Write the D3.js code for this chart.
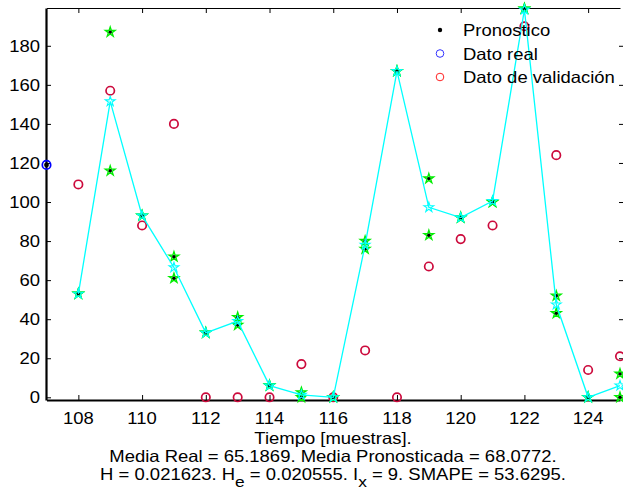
<!DOCTYPE html>
<html><head><meta charset="utf-8">
<script src="https://cdn.jsdelivr.net/npm/d3@7"></script>
<style>
html,body{margin:0;padding:0;background:#fff;}
svg{display:block;}
text{font-family:"Liberation Sans",Arial,Helvetica,sans-serif;fill:#000;}
</style></head>
<body>
<svg id="chart" width="623" height="492"></svg>
<script>
// ---- data ----
const muestras = [108,109,110,111,112,113,114,115,116,117,118,119,120,121,122,123,124,125];
const pronosticoA = [53,187,93,72,33,41,6,2.5,0,80,167,112,92,100,199,52,0,12];
const pronosticoB = [53,116,93,61,33,37,6,0,0,76,167,83,92,100,199,43,0,0];
const pronosticoMedio = [53,151.5,93,66.5,33,39,6,1.2,0,78,167,97.3,92,100.5,198.5,47.5,0,6];
const validacion = [109,157,88,140,0,0,0,17,0,24,0,67,81,88,190,124,14,21];
const realX = [107];
const realY = [119];
const xTicks = [108,110,112,114,116,118,120,122,124];
const yTicks = [0,20,40,60,80,100,120,140,160,180];
const xLabel = "Tiempo [muestras].";
const linea1 = "Media Real = 65.1869. Media Pronosticada = 68.0772.";
const legendLabels = ["Pronostico","Dato real","Dato de validación"];

// ---- layout ----
const svg = d3.select("#chart");
const L = 46.5, R = 620, T = 8, B = 400;
const x = d3.scaleLinear().domain([107,125]).range([L,R]);
const y = d3.scaleLinear().domain([-1.38,199.35]).range([B,T]);
const FS = 16.5, SX = 1.12;

function label(g, txt, px, py, anchor){
  return g.append("text").attr("font-size",FS)
    .attr("text-anchor",anchor||"middle")
    .attr("transform",`translate(${px},${py}) scale(${SX},1)`)
    .text(txt);
}

const star = d3.symbol().type(d3.symbolStar).size(30);

// axes
const axB = svg.append("g").attr("transform",`translate(0,${B})`)
  .call(d3.axisBottom(x).tickValues(xTicks).tickSizeInner(-5).tickSizeOuter(0).tickFormat(""));
const axT = svg.append("g").attr("transform",`translate(0,${T})`)
  .call(d3.axisTop(x).tickValues(xTicks).tickSizeInner(-5).tickSizeOuter(0).tickFormat(""));
const axL = svg.append("g").attr("transform",`translate(${L-0.5},0)`)
  .call(d3.axisLeft(y).tickValues(yTicks).tickSizeInner(-5).tickSizeOuter(0).tickFormat(""));
const axR = svg.append("g").attr("transform",`translate(624,0)`)
  .call(d3.axisRight(y).tickValues(yTicks).tickSizeInner(-5).tickSizeOuter(0).tickFormat(""));
[axB,axT,axL,axR].forEach(a=>{a.selectAll("line").attr("stroke","#000");a.select(".domain").attr("stroke","#000");});
axT.select(".domain").attr("stroke-width",1.2);
axB.select(".domain").attr("stroke-width",2.2);
axL.select(".domain").attr("stroke-width",2.2);

// tick labels
const tl = svg.append("g");
xTicks.forEach(v=>label(tl, String(v), x(v), 424, "middle"));
yTicks.forEach(v=>label(tl, String(v), 40, y(v)+6, "end"));

// validation circles
svg.append("g").selectAll("circle").data(validacion).join("circle")
  .attr("cx",(d,i)=>x(muestras[i])).attr("cy",d=>y(d)).attr("r",4.2)
  .attr("fill","none").attr("stroke","#cc0a3c").attr("stroke-width",1.7);

// real data
svg.append("g").selectAll("circle").data(realY).join("circle")
  .attr("cx",(d,i)=>x(realX[i])).attr("cy",d=>y(d)).attr("r",4.2)
  .attr("fill","none").attr("stroke","#0000ff").attr("stroke-width",1.7);
svg.append("g").selectAll("circle").data(realY).join("circle")
  .attr("cx",(d,i)=>x(realX[i])).attr("cy",d=>y(d)).attr("r",2.4).attr("fill","#000");

// individual forecasts (green stars + black dots)
[pronosticoA, pronosticoB].forEach(s=>{
  const g = svg.append("g");
  g.selectAll("path").data(s).join("path")
    .attr("transform",(d,i)=>`translate(${x(muestras[i])},${y(d)})`)
    .attr("d",star).attr("fill","#00ee00").attr("fill-opacity",0.35).attr("stroke","#00ee00").attr("stroke-width",1.3);
  g.selectAll("circle").data(s).join("circle")
    .attr("cx",(d,i)=>x(muestras[i])).attr("cy",d=>y(d)).attr("r",1.7).attr("fill","#000");
});

// mean forecast line
svg.append("path").datum(pronosticoMedio)
  .attr("d", d3.line().x((d,i)=>x(muestras[i])).y(d=>y(d)))
  .attr("fill","none").attr("stroke","#00ffff").attr("stroke-width",1.3);
svg.append("g").selectAll("path").data(pronosticoMedio).join("path")
  .attr("transform",(d,i)=>`translate(${x(muestras[i])},${y(d)})`)
  .attr("d",star).attr("fill","none").attr("stroke","#00ffff").attr("stroke-width",1.1);

// legend
const lg = svg.append("g");
const rows = [30,53.5,77];
lg.append("circle").attr("cx",440).attr("cy",rows[0]).attr("r",2.2).attr("fill","#000");
lg.append("circle").attr("cx",440).attr("cy",rows[1]).attr("r",3.8).attr("fill","none").attr("stroke","#3333ff").attr("stroke-width",1);
lg.append("circle").attr("cx",440).attr("cy",rows[2]).attr("r",3.8).attr("fill","none").attr("stroke","#ff2222").attr("stroke-width",1);
legendLabels.forEach((t,i)=>label(lg, t, 463, rows[i]+6, "start"));

// x label and stats text
label(svg, xLabel, 333, 444, "middle");
label(svg, linea1, 333, 462, "middle");
const t3 = svg.append("text").attr("font-size",FS).attr("text-anchor","middle")
  .attr("transform",`translate(333,480) scale(${SX},1)`);
t3.append("tspan").text("H = 0.021623. H");
t3.append("tspan").attr("dy",7).attr("font-size",FS-1).text("e");
t3.append("tspan").attr("dy",-7).text(" = 0.020555. I");
t3.append("tspan").attr("dy",7).attr("font-size",FS-1).text("x");
t3.append("tspan").attr("dy",-7).text(" = 9. SMAPE = 53.6295.");
</script>
</body></html>
